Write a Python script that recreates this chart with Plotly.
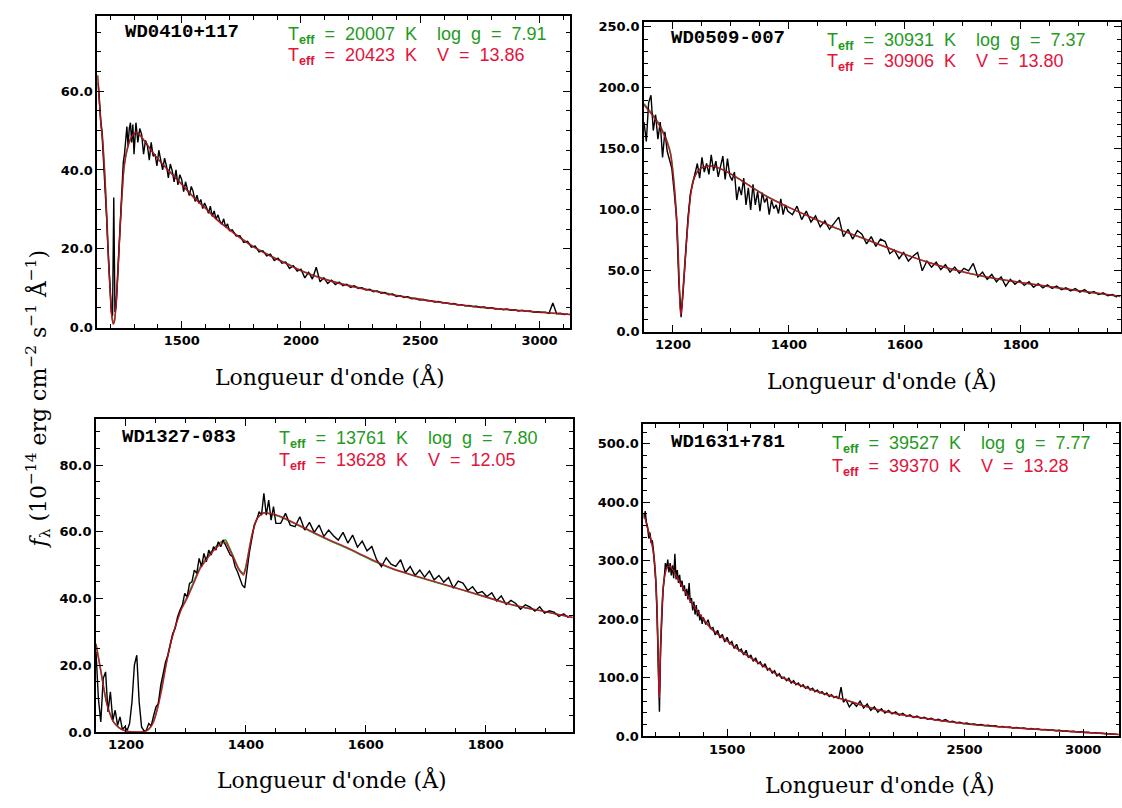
import numpy as np
import plotly.graph_objects as go

W, H = 1122, 808

# ---------------- WD0410+117 ----------------
P1_MODEL_WAVE = [1147, 1155, 1162, 1167, 1172, 1177, 1181, 1188, 1194, 1200, 1204, 1209, 1213, 1218, 1224,
                 1230, 1237, 1244, 1250, 1257, 1265, 1272, 1282, 1293, 1305, 1315, 1330, 1360, 1400, 1450,
                 1500, 1550, 1600, 1650, 1700, 1750, 1800, 1850, 1900, 1950, 2000, 2100, 2200, 2300, 2400,
                 2500, 2600, 2700, 2800, 2900, 3000, 3128]
P1_RED = [64, 57, 51, 48.5, 44, 39, 34, 24, 15.5, 9, 4.5, 1.8, 0.8, 1.5, 5, 11, 19.5, 27.8, 34, 40,
          43.5, 45.5, 47.5, 48.7, 49.5, 49.5, 48.5, 46, 42.8, 39.5, 36.3, 33, 30.2, 27.2, 24.8, 22.5, 20.5,
          18.8, 17.3, 15.9, 14.4, 12.2, 10.6, 9.3, 8.1, 7.1, 6.3, 5.5, 4.9, 4.4, 3.9, 3.3]
P1_GREEN = [64, 57.5, 51.5, 49, 44.5, 39.5, 34.5, 25, 16, 9.5, 5, 2.2, 1, 1.8, 5.5, 11.5, 20, 28, 34.2, 40,
            43.3, 45.3, 47.3, 48.6, 49.4, 49.4, 48.4, 46, 42.8, 39.6, 36.4, 33.1, 30.3, 27.3, 24.9, 22.6,
            20.6, 18.9, 17.4, 16, 14.5, 12.3, 10.7, 9.4, 8.2, 7.2, 6.3, 5.5, 4.9, 4.4, 3.9, 3.3]
P1_OBS = [
    (1150, 5, [62, 56.5, 52.5, 50, 45, 41, 35, 28, 21, 14.5, 8, 4, 3, 33, 4, 5.5, 11.5, 17, 24, 29,
               35, 42, 44, 47, 51, 46, 50.5, 52, 47, 51.5, 44]),
    (1308, 8, [52, 47, 50.5, 49, 44, 47.5, 46.2, 42.5, 47, 43.5, 44, 41, 45, 42.5, 40, 43, 41, 38, 41.5, 39.8,
               37, 40, 36.2, 38.8, 37.5, 34.5, 37, 35, 33.5, 35.8, 34.5, 32, 33.6, 31.5, 32.5, 30.2, 31.6,
               30.5, 29, 30.8, 28.2, 29.6, 27.5, 28.6, 27, 26.2, 27.6, 25.5, 26.3, 24.6]),
    (1712, 16, [24.8, 23.2, 23.3, 21.6, 21.9, 20.4, 20.7, 19.2, 19.5, 18.2,
                18.6, 17.0, 17.6, 16.3, 16.6, 15.0, 15.7, 14.3, 14.8, 12.6,
                14.0, 12.3, 15.3, 11.6, 12.6, 11.2, 12.0, 10.9, 11.5, 10.6,
                11.0, 10.2, 10.6, 9.9, 10.1, 9.5, 9.7, 9.1, 9.3, 8.7,
                8.9, 8.3, 8.5, 7.9, 8.1, 7.6, 7.8, 7.3, 7.4, 7.0,
                7.1, 6.8, 6.8, 6.5, 6.6, 6.3, 6.3, 6.0, 6.1, 5.8,
                5.8, 5.5, 5.6, 5.3, 5.4, 5.1, 5.2, 4.9, 5.0, 4.7,
                4.8, 4.5, 4.7, 4.4, 4.5, 4.2, 4.4, 4.1, 4.2, 3.9,
                4.0, 3.8, 3.9, 3.6, 6.2, 3.5, 3.6, 3.3, 3.4]),
]

# ---------------- WD0509-007 ----------------
P2_MODEL_WAVE = [1150, 1160, 1170, 1180, 1190, 1196, 1200, 1204, 1207, 1209, 1211, 1213, 1215, 1218, 1221,
                 1224, 1227, 1231, 1236, 1242, 1250, 1262, 1275, 1290, 1310, 1333, 1360, 1400, 1440, 1476,
                 1534, 1600, 1640, 1680, 1740, 1800, 1880, 1972]
P2_RED = [186, 180, 174, 166, 155, 145, 130, 108, 85, 62, 34, 14, 18, 38, 58, 78, 96, 114, 125, 131,
          134.5, 136, 135, 132, 126.5, 119.5, 111.5, 102, 93.5, 86, 75.5, 63.5, 57, 51.5, 45, 40.4, 35, 29]
P2_GREEN = [187, 181, 175, 167, 156, 146, 131, 110, 88, 65, 38, 17, 21, 40, 60, 80, 97, 115, 126, 131.5,
            134.5, 136, 135, 132, 126.5, 119.5, 111.5, 102, 93.5, 86, 75.5, 63.5, 57, 51.5, 45, 40.4, 35, 29]
P2_OBS = [
    (1150, 4, [172, 156, 188, 194, 165, 178, 158, 172, 143, 164,
               148, 140, 134, 115, 94, 42, 12, 36, 68, 94,
               113, 122, 130, 138, 126, 143, 131, 138, 129, 145,
               132, 140, 127, 136, 144, 125, 142, 128, 124, 131,
               108, 119, 112, 126, 104, 118, 100, 121, 104, 115,
               99, 114, 106, 110, 96, 108, 101, 104, 97, 109,
               96, 104, 99]),
    (1406, 8, [96, 103, 92, 99, 90, 95, 86, 91, 84, 89,
               94, 78, 84, 76, 83, 80, 72, 78, 70, 76,
               74, 64, 67, 60, 65, 58, 62, 65, 50, 58,
               53, 57, 51, 55, 49, 53, 48, 52, 50, 56,
               45, 49, 43, 47, 41, 45, 37.5, 43, 39, 42,
               38, 41, 36.5, 39.5, 36, 38.5, 35.5, 37.5, 34.5, 36,
               33.5, 35.5, 32.5, 34.5, 31.5, 33, 30.5, 32, 29.5, 30.5,
               28.5]),
]

# ---------------- WD1327-083 ----------------
P3_MODEL_WAVE = [1150, 1157, 1163, 1168, 1174, 1179, 1188, 1196, 1205, 1215, 1228, 1236, 1241, 1246, 1252,
                 1260, 1268, 1276, 1285, 1293, 1302, 1313, 1324, 1335, 1346, 1356, 1366, 1373, 1380, 1387,
                 1391, 1396, 1399, 1402, 1406, 1410, 1418, 1424, 1430, 1440, 1457, 1485, 1513, 1540, 1568,
                 1590, 1613, 1645, 1680, 1735, 1790, 1846, 1900, 1945]
P3_RED = [26.2, 19.3, 13, 8.4, 5, 3, 1.3, 0.5, 0.1, 0, 0, 0.6, 1.5, 3.0, 6.5, 13, 21, 27.5, 33, 37,
          40, 44.5, 49, 51.8, 54.3, 56, 56.8, 54.5, 51.9, 49, 47.9, 47, 48.5, 51, 55, 58.8, 63.7, 65,
          65.7, 65.5, 64.7, 62.3, 59.8, 57.5, 55.3, 53.4, 51.4, 48.9, 46.9, 44, 41, 38, 36, 34.3]
P3_GREEN = [26.5, 19.5, 13.2, 8.6, 5.2, 3.1, 1.4, 0.5, 0.1, 0, 0, 0.5, 1.4, 3.3, 7, 14, 21.5, 27.8, 33.2,
            37.3, 40.5, 45, 49.5, 52.3, 54.8, 56.6, 57.5, 55, 52.2, 49.3, 48.2, 47.5, 49, 51.5, 55.4, 59,
            63.8, 65, 65.6, 65.4, 64.5, 62.1, 59.6, 57.3, 55.1, 53.2, 51.2, 48.8, 46.8, 43.9, 41, 38, 36, 34.3]
P3_OBS = [
    (1150, 4, [24, 10, 3, 16, 18, 6, 12, 3.5, 6.5, 2,
               4.5, 0.8, 1.5, 0.5, 2.5, 9, 20, 23, 9, 1.5,
               0.3, 0.5, 2.5, 1.8, 4.8, 7.5, 8.5, 14, 17.5, 21,
               23, 26, 29.5, 31, 34.5, 36.5, 38, 41.5, 40.5, 44.5,
               45, 48.5, 47.5, 52, 49.5, 53.5, 51, 54.5, 53, 55.5,
               54.5, 57, 55.5, 57.5, 56, 55, 53, 52.5, 49.5, 48,
               46, 44, 43.2, 49, 54, 58, 62, 63.5, 66, 65,
               71.5, 65, 69.5, 63.5, 67.5, 62.5]),
    (1458, 8, [62.5, 65.5, 62, 61.5, 64.5, 60.5, 62.8, 59.8, 62, 58.6,
               60.5, 58.8, 57.5, 59.8, 56.6, 59, 55.4, 57.2, 54.3, 55.6,
               51.6, 49.5, 52.2, 50.3, 49.6, 51.6, 47.8, 49.6, 46.9, 48.5,
               46.4, 48.2, 45.6, 46.9, 44.9, 46.3, 43.1, 45.2, 44.6, 42.4,
               43.5, 41.6, 42.1, 40.6, 41.7, 39.3, 40.8, 38.2, 39.4, 38.5,
               36.8, 38.1, 37.4, 36.2, 37.5, 35.6, 36.3, 35.9, 34.6, 35.4,
               34.2]),
]

# ---------------- WD1631+781 ----------------
P4_MODEL_WAVE = [1148, 1155, 1165, 1175, 1185, 1193, 1199, 1204, 1208, 1211, 1213, 1215, 1217, 1219, 1222,
                 1226, 1231, 1238, 1246, 1255, 1265, 1280, 1300, 1330, 1356, 1400, 1440, 1500, 1550, 1600,
                 1650, 1700, 1750, 1808, 1900, 2000, 2080, 2158, 2260, 2368, 2500, 2600, 2718, 2850, 3000, 3150]
P4_RED = [378, 372, 355, 342, 325, 302, 270, 225, 165, 110, 75, 66, 95, 140, 180, 220, 255, 276, 288, 291,
          288, 279, 264, 243, 224, 200, 181, 163, 147, 134, 121, 108, 97, 87, 73.5, 61.8, 51.5, 43, 35,
          28.5, 21.5, 17.7, 14, 10.5, 6.7, 3]
P4_GREEN = [380, 373, 356, 343, 326, 304, 273, 230, 172, 118, 82, 72, 100, 145, 183, 222, 256, 277, 288.5,
            291, 288, 279, 264, 243, 224, 200, 181, 163, 147, 134, 121, 108, 97, 87, 73.5, 61.8, 51.5, 43,
            35, 28.5, 21.5, 17.7, 14, 10.5, 6.7, 3]
P4_OBS = [
    (1150, 5, [372, 385, 366, 358, 338, 348, 330, 335, 316, 292,
               262, 205, 95, 42, 150, 212, 248, 268, 296, 285,
               302, 280, 296, 275, 292, 270, 312, 268, 284, 262,
               276, 255, 266, 248, 258, 240, 252, 234, 262, 228,
               236, 215, 230, 208, 224, 205, 216, 198, 208, 192,
               203]),
    (1410, 10, [191, 199, 184, 186, 173, 181, 168, 174, 161, 169,
                158, 162, 150, 157, 146, 149, 139, 147, 134, 139,
                128, 134, 124, 127, 118, 124, 113, 116, 108, 112,
                103, 107, 99, 101, 95, 99, 91, 95, 88, 91,
                85, 88, 82, 85, 79, 82, 76, 79, 74, 76,
                71, 74, 68, 71, 66, 68, 64, 84, 58, 63]),
    (2015, 15, [50, 58, 51, 60, 48, 55, 44, 50, 41, 47,
                39.5, 44, 38, 41.5, 36, 39, 34, 36.5, 32, 34.5,
                30.5, 32.5, 29, 30.5, 27.5, 29, 26, 28.5, 24.5, 25.5,
                23, 24, 21.5, 22.5, 20.2, 21, 19.1, 20, 18.1, 18.8,
                17, 17.8, 16, 16.8, 15, 15.8, 14.1, 15, 13.3, 14,
                12.5, 13.2, 11.7, 12.4, 10.9, 11.6, 10.1, 10.8, 9.3, 10,
                8.6, 9.1, 7.8, 8.3, 7, 7.5, 6.4, 6.8, 5.6, 6,
                4.9, 5.2, 4.1, 4.4, 3.3, 3.4]),
]

STARS = ["WD0410+117", "WD0509-007", "WD1327-083", "WD1631+781"]
FIT_SPEC = [("20007", "7.91"), ("30931", "7.37"), ("13761", "7.80"), ("39527", "7.77")]
FIT_PHOT = [("20423", "13.86"), ("30906", "13.80"), ("13628", "12.05"), ("39370", "13.28")]

X_RANGES = [[1146, 3128], [1150, 1972], [1150, 1945], [1147, 3152]]
Y_RANGES = [[0, 79], [0, 254], [0, 93.8], [0, 534]]
X_TICKS = [(500, 100), (200, 50), (200, 50), (500, 100)]
Y_TICKS = [(20, 5), (50, 10), (20, 5), (100, 20)]

# panel boxes in pixels: left, right, top, bottom
BOXES = [(97.3, 570.0, 13.5, 329.0), (644.0, 1120.5, 19.3, 333.3),
         (96.0, 572.7, 421.7, 739.0), (643.3, 1119.3, 426.7, 743.3)]
# label anchors (pixels)
NAME_POS = [(123, 29.5), (669, 35), (120, 439.5), (669, 445)]
FIT_POS = [(286, 32.5, 54), (825, 39.5, 60.5), (277, 442.5, 464.5), (830, 447.5, 470.5)]
XTITLE_POS = [(330, 379), (882, 383), (332, 787), (880, 792)]

RED_LINE = "#c8102e"
GREEN_LINE = "#2a9a2a"
RED_TEXT = "#e2143c"
GREEN_TEXT = "#1f9a22"

MODELS = [(P1_MODEL_WAVE, P1_RED, P1_GREEN), (P2_MODEL_WAVE, P2_RED, P2_GREEN),
          (P3_MODEL_WAVE, P3_RED, P3_GREEN), (P4_MODEL_WAVE, P4_RED, P4_GREEN)]
OBS = [P1_OBS, P2_OBS, P3_OBS, P4_OBS]


def spectrum(segments):
    wave, flux = [], []
    for start, step, values in segments:
        wave.extend(start + step * np.arange(len(values)))
        flux.extend(values)
    return np.array(wave, dtype=float), np.array(flux, dtype=float)


def px(x):
    return x / W


def py(y):
    return 1 - y / H


NB = "\u00a0"


def sp(n):
    return NB * n


fig = go.Figure()
annotations = []
tick_font = dict(family="DejaVu Sans", size=13, color="black", weight="bold")

for i in range(4):
    n = "" if i == 0 else str(i + 1)
    xa, ya = "x" + n, "y" + n
    mw, red, green = MODELS[i]
    ow, of = spectrum(OBS[i])

    fig.add_trace(go.Scatter(x=mw, y=green, xaxis=xa, yaxis=ya, mode="lines",
                             line=dict(color=GREEN_LINE, width=1.6, shape="spline", smoothing=0.6),
                             hoverinfo="skip", showlegend=False))
    fig.add_trace(go.Scatter(x=ow, y=of, xaxis=xa, yaxis=ya, mode="lines",
                             line=dict(color="black", width=1.4),
                             hoverinfo="skip", showlegend=False))
    fig.add_trace(go.Scatter(x=mw, y=red, xaxis=xa, yaxis=ya, mode="lines",
                             line=dict(color=RED_LINE, width=1.4, shape="spline", smoothing=0.6),
                             opacity=0.9, hoverinfo="skip", showlegend=False))

    l, r, t, b = BOXES[i]
    dx, mx = X_TICKS[i]
    dy, my = Y_TICKS[i]
    common = dict(showline=True, linecolor="black", linewidth=1.6, mirror="allticks",
                  ticks="inside", ticklen=7, tickwidth=1.2, tickcolor="black",
                  showgrid=False, zeroline=False, tickfont=tick_font)
    fig.update_layout({
        "xaxis" + n: dict(domain=[px(l), px(r)], range=X_RANGES[i], anchor=ya,
                          tick0=0, dtick=dx,
                          minor=dict(dtick=mx, tick0=0, ticks="inside", ticklen=4,
                                     tickwidth=1, tickcolor="black", showgrid=False),
                          **common),
        "yaxis" + n: dict(domain=[py(b), py(t)], range=Y_RANGES[i], anchor=xa,
                          tick0=0, dtick=dy, tickformat=".1f",
                          minor=dict(dtick=my, tick0=0, ticks="inside", ticklen=4,
                                     tickwidth=1, tickcolor="black", showgrid=False),
                          **common),
    })

    nx, ny = NAME_POS[i]
    annotations.append(dict(x=px(nx), y=py(ny), xref="paper", yref="paper", xanchor="left",
                            yanchor="middle", showarrow=False, text=STARS[i],
                            font=dict(family="Liberation Mono", size=19, color="black", weight="bold")))
    fx, gy, ry = FIT_POS[i]
    teff = "T<sub><b>eff</b></sub>"
    gtxt = (teff + sp(2) + "=" + sp(2) + FIT_SPEC[i][0] + sp(2) + "K" + sp(4) + "log" + sp(2) + "g"
            + sp(2) + "=" + sp(2) + FIT_SPEC[i][1])
    rtxt = (teff + sp(2) + "=" + sp(2) + FIT_PHOT[i][0] + sp(2) + "K" + sp(4) + "V" + sp(2) + "="
            + sp(2) + FIT_PHOT[i][1])
    annotations.append(dict(x=px(fx), y=py(gy), xref="paper", yref="paper", xanchor="left",
                            yanchor="middle", showarrow=False, text=gtxt,
                            font=dict(family="Liberation Sans", size=18, color=GREEN_TEXT)))
    annotations.append(dict(x=px(fx), y=py(ry), xref="paper", yref="paper", xanchor="left",
                            yanchor="middle", showarrow=False, text=rtxt,
                            font=dict(family="Liberation Sans", size=18, color=RED_TEXT)))
    tx, ty = XTITLE_POS[i]
    annotations.append(dict(x=px(tx), y=py(ty), xref="paper", yref="paper", xanchor="center",
                            yanchor="middle", showarrow=False, text="Longueur d'onde (Å)",
                            font=dict(family="DejaVu Serif", size=22, color="black")))

annotations.append(dict(x=px(38), y=py(402), xref="paper", yref="paper", xanchor="center",
                        yanchor="middle", showarrow=False, textangle=-90,
                        text="<i>f</i><sub>λ</sub> (10<sup>−14</sup> erg cm<sup>−2</sup> s<sup>−1</sup> Å<sup>−1</sup>)",
                        font=dict(family="DejaVu Serif", size=22, color="black")))

fig.update_layout(width=W, height=H, margin=dict(l=0, r=0, t=0, b=0),
                  paper_bgcolor="white", plot_bgcolor="white", annotations=annotations)

fig.write_html("out.html")
